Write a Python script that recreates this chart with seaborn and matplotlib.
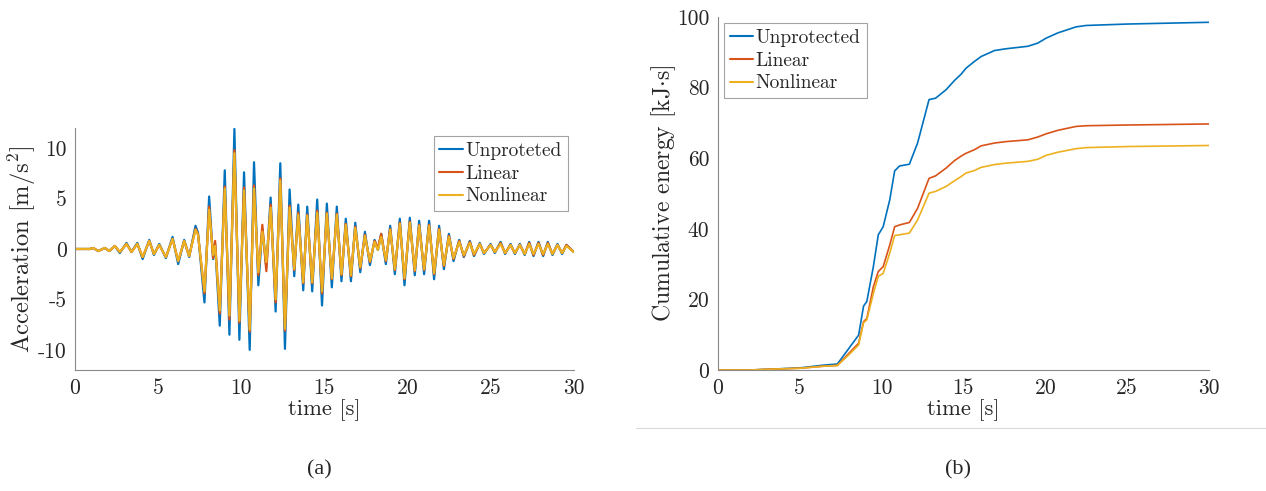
import matplotlib
matplotlib.use("Agg")
import matplotlib.pyplot as plt
import pandas as pd
import seaborn as sns
from matplotlib.lines import Line2D

# acceleration time history, read at the peaks and troughs
acc_time = [
    0, 0.9, 1.1, 1.4, 1.8, 2.07, 2.4, 2.7, 3.1, 3.4,
    3.75, 4.07, 4.47, 4.75, 5.07, 5.47, 5.87, 6.21, 6.57, 6.87,
    7.25, 7.4, 7.79, 8.07, 8.31, 8.43, 8.71, 9.01, 9.29, 9.59,
    9.89, 10.17, 10.51, 10.77, 11.03, 11.27, 11.51, 11.77, 12.07, 12.35,
    12.63, 12.91, 13.19, 13.43, 13.73, 13.97, 14.27, 14.57, 14.86, 15.15,
    15.45, 15.75, 16.03, 16.29, 16.6, 16.86, 17.16, 17.44, 17.74, 18.02,
    18.22, 18.42, 18.70, 18.96, 19.24, 19.54, 19.82, 20.14, 20.44, 20.70,
    21.0, 21.30, 21.60, 21.90, 22.19, 22.49, 22.77, 23.11, 23.39, 23.75,
    24.0, 24.35, 24.6, 25.0, 25.25, 25.6, 25.87, 26.2, 26.46, 26.76,
    27.05, 27.32, 27.58, 27.88, 28.16, 28.44, 28.72, 29.02, 29.3, 29.56,
    30.0,
]
acc_unprotected = [
    0, 0, 0.1, -0.2, 0.1, -0.2, 0.3, -0.4, 0.6, -0.3,
    0.6, -1.0, 0.9, -0.6, 0.5, -0.9, 1.2, -1.5, 0.9, -0.8,
    2.3, 1.6, -5.3, 5.2, -1.0, 0.5, -7.6, 7.8, -8.5, 11.9,
    -9.0, 7.6, -10.0, 8.6, -3.6, 2.0, -1.8, 5.1, -6.2, 8.5,
    -9.9, 5.9, -2.7, 4.4, -4.1, 4.2, -4.2, 4.9, -5.6, 4.5,
    -3.8, 4.2, -3.2, 3.0, -3.2, 2.6, -2.3, 1.7, -1.6, 0.9,
    -0.1, 1.5, -1.5, 2.3, -2.5, 3.0, -3.6, 3.1, -2.6, 2.8,
    -2.5, 2.8, -3.0, 2.3, -2.0, 1.5, -1.2, 0.9, -0.8, 0.8,
    -0.7, 0.6, -0.5, 0.5, -0.4, 0.7, -0.5, 0.5, -0.5, 0.5,
    -0.6, 0.7, -0.7, 0.7, -0.7, 0.7, -0.6, 0.5, -0.5, 0.4,
    -0.3,
]
acc_linear = [
    0, 0, 0.1, -0.2, 0.1, -0.2, 0.3, -0.3, 0.5, -0.3,
    0.5, -0.8, 0.8, -0.5, 0.4, -0.8, 1.0, -1.2, 0.8, -0.7,
    2.0, 1.5, -4.4, 4.2, -0.9, 0.8, -6.4, 6.2, -7.0, 9.8,
    -7.3, 6.1, -8.2, 6.3, -2.6, 2.4, -2.2, 4.4, -5.3, 7.0,
    -8.1, 4.3, -2.1, 3.6, -3.4, 3.4, -3.4, 3.8, -4.4, 3.6,
    -3.0, 3.5, -2.6, 2.5, -2.7, 2.2, -1.9, 1.4, -1.3, 0.8,
    0.1, 1.5, -1.2, 2.0, -2.1, 2.6, -3.0, 2.7, -2.2, 2.4,
    -2.1, 2.4, -2.5, 2.0, -1.7, 1.3, -1.0, 0.8, -0.7, 0.7,
    -0.6, 0.5, -0.4, 0.4, -0.3, 0.6, -0.4, 0.4, -0.4, 0.4,
    -0.5, 0.6, -0.6, 0.6, -0.6, 0.6, -0.5, 0.4, -0.4, 0.4,
    -0.3,
]
acc_nonlinear = [
    0, 0, 0.1, -0.2, 0.1, -0.2, 0.3, -0.3, 0.5, -0.3,
    0.5, -0.8, 0.8, -0.5, 0.4, -0.8, 1.0, -1.2, 0.8, -0.7,
    1.9, 1.4, -4.2, 3.9, -0.6, 0.3, -6.1, 6.0, -6.6, 9.5,
    -7.1, 5.8, -8.0, 6.0, -2.3, 1.7, -1.3, 4.1, -5.0, 6.8,
    -7.9, 4.1, -2.0, 3.4, -3.3, 3.3, -3.3, 3.6, -4.2, 3.5,
    -2.9, 3.4, -2.5, 2.4, -2.6, 2.1, -1.8, 1.3, -1.2, 0.7,
    -0.1, 1.2, -1.1, 1.9, -2.0, 2.5, -2.9, 2.6, -2.1, 2.3,
    -2.0, 2.3, -2.4, 1.9, -1.6, 1.2, -0.9, 0.7, -0.6, 0.6,
    -0.5, 0.5, -0.4, 0.4, -0.3, 0.5, -0.4, 0.4, -0.4, 0.4,
    -0.5, 0.5, -0.5, 0.5, -0.5, 0.5, -0.5, 0.4, -0.4, 0.3,
    -0.3,
]

# cumulative energy
energy_time = [
    0, 2, 3, 5, 6.5, 7.3, 8.0, 8.6, 8.9, 9.1,
    9.5, 9.8, 10.1, 10.5, 10.8, 11.1, 11.7, 12.2, 12.9, 13.3,
    13.94, 14.45, 14.86, 15.16, 15.67, 16.08, 16.9, 17.6, 18.93, 19.54,
    20.05, 20.77, 21.88, 22.5, 25, 30,
]
energy_unprotected = [
    0, 0, 0.2, 0.6, 1.4, 1.7, 6.1, 9.9, 18.1, 19.4,
    29.3, 38.3, 40.6, 48.2, 56.4, 57.8, 58.3, 64.3, 76.6, 77.0,
    79.4, 82.0, 83.8, 85.5, 87.4, 88.8, 90.5, 91.0, 91.7, 92.6,
    94.0, 95.5, 97.2, 97.6, 98.0, 98.5,
]
energy_linear = [
    0, 0, 0.2, 0.5, 1.1, 1.3, 4.7, 7.6, 13.7, 14.6,
    23.6, 27.9, 29.3, 35.4, 40.6, 41.1, 41.8, 45.8, 54.3, 55.0,
    57.2, 59.3, 60.6, 61.4, 62.4, 63.5, 64.3, 64.7, 65.2, 66.0,
    66.9, 67.9, 69.0, 69.2, 69.4, 69.7,
]
energy_nonlinear = [
    0, 0, 0.2, 0.5, 1.1, 1.3, 4.3, 7.1, 13.4, 14.2,
    21.7, 26.5, 27.4, 33.1, 38.1, 38.3, 38.8, 42.5, 50.1, 50.6,
    52.0, 53.6, 54.8, 55.8, 56.5, 57.4, 58.2, 58.6, 59.1, 59.7,
    60.8, 61.7, 62.7, 63.0, 63.3, 63.6,
]

acc_labels = ["Unproteted", "Linear", "Nonlinear"]
energy_labels = ["Unprotected", "Linear", "Nonlinear"]
colors = ["#0072BD", "#D95319", "#EDB120"]


def long_frame(t, series, labels):
    parts = []
    for vals, lab in zip(series, labels):
        parts.append(pd.DataFrame({"t": t, "v": vals, "case": lab}))
    return pd.concat(parts, ignore_index=True)


def style_axes(ax):
    sns.despine(ax=ax)
    for side in ["left", "bottom"]:
        ax.spines[side].set_color("#8a8a8a")
        ax.spines[side].set_linewidth(0.8)
    ax.tick_params(direction="in", length=5, width=0.8, color="#8a8a8a",
                   labelcolor="#262626", labelsize=15.5, pad=6)
    ax.set_xlim(0, 30)
    ax.set_xticks([0, 5, 10, 15, 20, 25, 30])


def style_legend(leg):
    leg.get_frame().set_edgecolor("#8c8c8c")
    leg.get_frame().set_linewidth(0.8)
    for line in leg.get_lines():
        line.set_linewidth(1.5)
    for txt in leg.get_texts():
        txt.set_color("#262626")


sns.set_theme(style="white")
plt.rcParams["font.family"] = ["cmr10", "DejaVu Serif"]
plt.rcParams["mathtext.fontset"] = "cm"
plt.rcParams["axes.unicode_minus"] = False
plt.rcParams["axes.formatter.use_mathtext"] = False

fig = plt.figure(figsize=(12.66, 4.91), dpi=100)
ax1 = fig.add_axes([0.0592, 0.2464, 0.394, 0.493])
ax2 = fig.add_axes([0.567, 0.2464, 0.388, 0.719])

acc_df = long_frame(acc_time, [acc_unprotected, acc_linear, acc_nonlinear], acc_labels)
sns.lineplot(data=acc_df, x="t", y="v", hue="case", palette=colors,
             estimator=None, sort=False, linewidth=1.6, ax=ax1)
style_axes(ax1)
ax1.set_ylim(-12, 12)
ax1.set_yticks([-10, -5, 0, 5, 10])
ax1.set_xlabel("time [s]", fontsize=16.3, labelpad=1, color="#262626")
ax1.set_ylabel(r"Acceleration [m/s$^2$]", fontsize=17.7, color="#262626")
ax1.yaxis.set_label_coords(-0.074, 0.5)
leg1 = ax1.legend(loc="upper right", bbox_to_anchor=(0.988, 0.967), fontsize=14,
                  frameon=True, fancybox=False, handlelength=1.2,
                  handletextpad=0.15, borderpad=0.3, labelspacing=0.25,
                  borderaxespad=0)
style_legend(leg1)

energy_df = long_frame(energy_time, [energy_unprotected, energy_linear, energy_nonlinear],
                       energy_labels)
sns.lineplot(data=energy_df, x="t", y="v", hue="case", palette=colors,
             estimator=None, sort=False, linewidth=1.2, ax=ax2)
style_axes(ax2)
ax2.set_ylim(0, 100)
ax2.set_yticks([0, 20, 40, 60, 80, 100])
ax2.set_xlabel("time [s]", fontsize=16.3, labelpad=1, color="#262626")
ax2.set_ylabel(r"Cumulative energy [kJ$\cdot$s]", fontsize=17.1, color="#262626")
ax2.yaxis.set_label_coords(-0.082, 0.5)
leg2 = ax2.legend(loc="upper left", bbox_to_anchor=(0.012, 0.983), fontsize=14,
                  frameon=True, fancybox=False, handlelength=1.2,
                  handletextpad=0.15, borderpad=0.3, labelspacing=0.25,
                  borderaxespad=0)
style_legend(leg2)

# faint frame line under panel (b) and the captions
fig.add_artist(Line2D([636 / 1266, 1.0], [1 - 428 / 491, 1 - 428 / 491],
                      transform=fig.transFigure, color="#d9d9d9", linewidth=0.8))
fig.text(319 / 1266, 1 - 470 / 491, "(a)", ha="center", va="center",
         fontsize=16, family="Liberation Serif")
fig.text(958 / 1266, 1 - 470 / 491, "(b)", ha="center", va="center",
         fontsize=16, family="Liberation Serif")

fig.savefig("out.png", dpi=100)
